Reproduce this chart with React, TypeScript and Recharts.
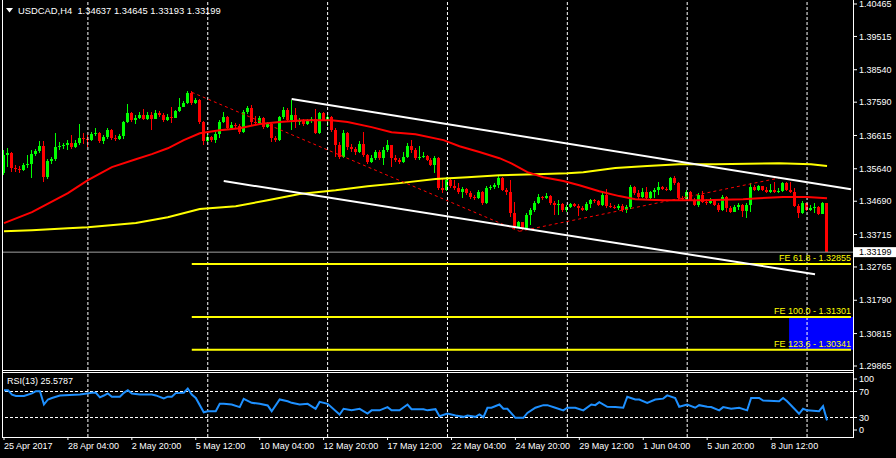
import React from "react";
import {
  ComposedChart,
  Bar,
  Line,
  XAxis,
  YAxis,
  ReferenceLine,
  ReferenceArea,
} from "recharts";

const FONT = "'Liberation Sans', Arial, sans-serif";
const BULL = "#00FF00";
const BEAR = "#FF0000";
const WHITE = "#FFFFFF";
const YELLOW = "#FFFF00";
const BARS = 213; // 207 candles + empty slots up to the price scale

// USDCAD H4, open of the first bar; later opens are the previous close
const FIRST_OPEN = 1.3551;

const closes = [
  1.3604, 1.361, 1.3566, 1.3563, 1.356, 1.3575, 1.3577, 1.3607, 1.3616, 1.363,
  1.3539, 1.3586, 1.3592, 1.3627, 1.363, 1.3633, 1.3639, 1.3627, 1.3639, 1.3654,
  1.3651, 1.3648, 1.3665, 1.3668, 1.3645, 1.3657, 1.3677, 1.3654, 1.3651, 1.366,
  1.3701, 1.3727, 1.3706, 1.3712, 1.3721, 1.3709, 1.3721, 1.3709, 1.3727, 1.3721,
  1.3706, 1.3715, 1.3714, 1.3733, 1.3745, 1.3756, 1.3786, 1.3756, 1.3765, 1.3701,
  1.3645, 1.3657, 1.3648, 1.3665, 1.3701, 1.3715, 1.3683, 1.3692, 1.3689, 1.3671,
  1.373, 1.3742, 1.3701, 1.3698, 1.3712, 1.3686, 1.3695, 1.3654, 1.3648, 1.3715,
  1.3736, 1.3706, 1.3721, 1.3701, 1.3703, 1.3695, 1.3703, 1.3709, 1.3668, 1.3727,
  1.3706, 1.3715, 1.3677, 1.3633, 1.3598, 1.3668, 1.3627, 1.3621, 1.3613, 1.3636,
  1.3604, 1.3583, 1.3595, 1.3613, 1.3595, 1.3619, 1.3633, 1.3595, 1.3589, 1.3583,
  1.3598, 1.363, 1.3619, 1.3595, 1.3598, 1.3601, 1.3589, 1.3575, 1.3595, 1.3507,
  1.3501, 1.3531, 1.3513, 1.3507, 1.3495, 1.3504, 1.3493, 1.3481, 1.3478, 1.3495,
  1.3463, 1.3507, 1.351, 1.3516, 1.3536, 1.3501, 1.3495, 1.3434, 1.3393, 1.3408,
  1.339, 1.3428, 1.3443, 1.3463, 1.3481, 1.3478, 1.3484, 1.3463, 1.3457, 1.346,
  1.3443, 1.3451, 1.346, 1.3454, 1.3449, 1.3443, 1.346, 1.3472, 1.3469, 1.3457,
  1.3487, 1.3454, 1.3451, 1.3449, 1.3454, 1.3443, 1.3451, 1.351, 1.3493, 1.3481,
  1.3495, 1.3478, 1.3495, 1.3501, 1.351, 1.3504, 1.3501, 1.3536, 1.3522, 1.3478,
  1.3475, 1.3495, 1.3472, 1.3457, 1.3487, 1.3466, 1.3463, 1.3472, 1.3457, 1.3443,
  1.3481, 1.3449, 1.3437, 1.3451, 1.3457, 1.344, 1.3457, 1.351, 1.3501, 1.3513,
  1.3501, 1.3495, 1.3501, 1.3495, 1.3498, 1.3522, 1.3501, 1.3495, 1.3454, 1.3434,
  1.3463, 1.3443, 1.3449, 1.3451, 1.3431, 1.34637, 1.33199,
];

const highs = [
  1.3619, 1.3624, 1.3613, 1.3575, 1.3572, 1.358, 1.3604, 1.3619, 1.3621, 1.3645,
  1.3645, 1.3592, 1.3598, 1.3668, 1.3642, 1.3639, 1.3648, 1.3662, 1.3648, 1.3695,
  1.3668, 1.3662, 1.3671, 1.3683, 1.3671, 1.3662, 1.3683, 1.368, 1.3662, 1.3665,
  1.3703, 1.3753, 1.373, 1.3721, 1.373, 1.3739, 1.373, 1.373, 1.3736, 1.3733,
  1.3727, 1.3724, 1.3745, 1.3736, 1.3771, 1.3762, 1.3791, 1.3791, 1.3771, 1.3768,
  1.3703, 1.3662, 1.366, 1.3671, 1.3706, 1.373, 1.3718, 1.3701, 1.3698, 1.3695,
  1.3736, 1.3747, 1.375, 1.3718, 1.3718, 1.3715, 1.3701, 1.3698, 1.366, 1.3718,
  1.3745, 1.3742, 1.3765, 1.3742, 1.3712, 1.3709, 1.3709, 1.3715, 1.3739, 1.373,
  1.373, 1.3721, 1.3718, 1.3683, 1.3642, 1.3677, 1.3671, 1.3636, 1.3627, 1.3645,
  1.3671, 1.3607, 1.3604, 1.3619, 1.3619, 1.3627, 1.3648, 1.3633, 1.3604, 1.3595,
  1.3613, 1.3639, 1.3648, 1.3624, 1.363, 1.3613, 1.3604, 1.3595, 1.3601, 1.3598,
  1.3536, 1.3539, 1.3536, 1.3531, 1.3522, 1.351, 1.3507, 1.3498, 1.3487, 1.3501,
  1.3498, 1.3513, 1.3516, 1.3522, 1.3542, 1.3539, 1.3507, 1.3531, 1.3466, 1.341,
  1.3408, 1.3434, 1.3449, 1.3469, 1.349, 1.3484, 1.3493, 1.3487, 1.3469, 1.3472,
  1.3463, 1.3457, 1.3463, 1.3463, 1.346, 1.3454, 1.3466, 1.3475, 1.3475, 1.3472,
  1.3493, 1.3504, 1.3463, 1.3457, 1.346, 1.346, 1.3457, 1.3516, 1.3513, 1.3501,
  1.3507, 1.351, 1.3498, 1.3507, 1.3525, 1.3513, 1.351, 1.3539, 1.3542, 1.3525,
  1.3484, 1.3501, 1.3498, 1.3478, 1.3493, 1.3498, 1.3475, 1.3478, 1.3475, 1.3463,
  1.3487, 1.3484, 1.3454, 1.3457, 1.3463, 1.346, 1.3463, 1.3522, 1.3516, 1.3516,
  1.3513, 1.351, 1.3519, 1.3525, 1.3507, 1.3525, 1.3525, 1.3525, 1.3507, 1.346,
  1.3469, 1.3463, 1.3457, 1.3463, 1.3454, 1.3466, 1.34645,
];

const lows = [
  1.3545, 1.3569, 1.3554, 1.3554, 1.3551, 1.3557, 1.3566, 1.3536, 1.3601, 1.361,
  1.3525, 1.3534, 1.3577, 1.3586, 1.3619, 1.3621, 1.3619, 1.3621, 1.3624, 1.3633,
  1.3636, 1.3627, 1.3645, 1.366, 1.3639, 1.3636, 1.3651, 1.3648, 1.3645, 1.3648,
  1.3651, 1.3698, 1.3701, 1.3695, 1.3709, 1.3706, 1.3706, 1.3677, 1.3709, 1.3715,
  1.3701, 1.3703, 1.3698, 1.3712, 1.373, 1.3745, 1.3753, 1.375, 1.3753, 1.3695,
  1.3633, 1.3642, 1.3642, 1.3639, 1.3654, 1.3698, 1.368, 1.368, 1.368, 1.3665,
  1.3668, 1.3724, 1.3692, 1.3695, 1.3692, 1.368, 1.3683, 1.3642, 1.3642, 1.3645,
  1.3709, 1.3701, 1.3677, 1.3683, 1.3692, 1.3689, 1.3692, 1.3698, 1.3665, 1.3665,
  1.3703, 1.3689, 1.3671, 1.3598, 1.3592, 1.3595, 1.3619, 1.3613, 1.3604, 1.361,
  1.3598, 1.3577, 1.358, 1.3589, 1.3589, 1.3575, 1.3613, 1.3569, 1.3583, 1.3577,
  1.358, 1.3595, 1.361, 1.3589, 1.3589, 1.3595, 1.3586, 1.3572, 1.3551, 1.3501,
  1.3493, 1.3498, 1.3507, 1.3501, 1.349, 1.3478, 1.3487, 1.3475, 1.3472, 1.3475,
  1.3457, 1.346, 1.3501, 1.3504, 1.3507, 1.3498, 1.3487, 1.3422, 1.3387, 1.339,
  1.3384, 1.3387, 1.3399, 1.3437, 1.346, 1.3472, 1.3475, 1.3457, 1.3428, 1.3428,
  1.3437, 1.3437, 1.3449, 1.3451, 1.3425, 1.344, 1.344, 1.3449, 1.3463, 1.3454,
  1.3454, 1.3449, 1.3449, 1.3446, 1.3443, 1.3437, 1.3434, 1.3446, 1.3487, 1.3475,
  1.3478, 1.3472, 1.3475, 1.3478, 1.3487, 1.3501, 1.3498, 1.3498, 1.3516, 1.3472,
  1.3469, 1.3472, 1.3469, 1.3454, 1.3451, 1.3463, 1.3457, 1.346, 1.3454, 1.3437,
  1.344, 1.3437, 1.3434, 1.3437, 1.3443, 1.3422, 1.3419, 1.3437, 1.3498, 1.3498,
  1.3498, 1.3493, 1.3493, 1.3493, 1.3493, 1.3495, 1.3498, 1.3493, 1.3451, 1.3419,
  1.3431, 1.344, 1.344, 1.3434, 1.3428, 1.3431, 1.33193,
];

// moving averages: [bar, value]
const maFast: [number, number][] = [
  [0, 1.3405], [7, 1.3437], [16, 1.3493], [21, 1.3531], [27, 1.3569], [33, 1.3592],
  [37, 1.3607], [41, 1.3624], [45, 1.3648], [49, 1.3668], [54, 1.3677], [59, 1.3683],
  [64, 1.3695], [69, 1.3701], [75, 1.3706], [82, 1.3706], [86, 1.3701], [92, 1.3686],
  [97, 1.3671], [103, 1.3665], [110, 1.3648], [114, 1.363], [119, 1.3613], [124, 1.3595],
  [127, 1.358], [131, 1.3554], [135, 1.3539], [140, 1.3528], [144, 1.3516], [149, 1.3498],
  [154, 1.3484], [158, 1.3475], [165, 1.3472], [175, 1.3472], [185, 1.3475], [189, 1.3478],
  [195, 1.3481], [201, 1.3481], [206, 1.3478],
];

const maSlow: [number, number][] = [
  [0, 1.3381], [7, 1.3384], [16, 1.339], [21, 1.3393], [33, 1.3405], [41, 1.3422],
  [49, 1.3446], [58, 1.3454], [66, 1.3472], [74, 1.349], [83, 1.3501], [91, 1.3513],
  [99, 1.3522], [108, 1.3534], [116, 1.3539], [124, 1.3545], [133, 1.3548], [141, 1.3551],
  [145, 1.3554], [153, 1.3566], [161, 1.3572], [169, 1.3577], [178, 1.3577], [194, 1.358],
  [202, 1.3577], [206, 1.3572],
];

const rsi13: [number, number][] = [
  [0, 72], [1, 72], [2, 65], [3, 63], [5, 63], [7, 67], [8, 70.5], [9, 70.5], [10, 50],
  [11, 57.7], [12, 60], [14, 63.8], [19, 65.4], [22, 68], [23, 68], [24, 61], [25, 63.8],
  [26, 67], [27, 62], [29, 62], [30, 68], [31, 72], [32, 67], [34, 65.4], [37, 65.4],
  [38, 64], [40, 59.4], [41, 62], [42, 62], [43, 67.5], [45, 68], [46, 74.6], [47, 65.4],
  [48, 60], [50, 38], [51, 39.7], [53, 39.7], [54, 51], [55, 51], [57, 50], [59, 46],
  [60, 58.7], [62, 52.6], [64, 51], [66, 48.5], [67, 39.7], [69, 57.7], [71, 55],
  [72, 52.6], [74, 50], [76, 51], [78, 43.4], [79, 54], [81, 51], [84, 34.6], [85, 43.4],
  [87, 41], [89, 43.4], [91, 36], [92, 41], [94, 41], [96, 46], [97, 41], [99, 41],
  [101, 50], [102, 42.8], [105, 42.8], [106, 41], [108, 42.8], [109, 32], [111, 36],
  [113, 33], [115, 31], [116, 33], [118, 31], [119, 34.6], [120, 30.5], [121, 45],
  [122, 45], [124, 50], [125, 43.4], [126, 43.4], [128, 29.5], [130, 29.5], [131, 37],
  [133, 45], [135, 49], [136, 49], [138, 45], [140, 41], [141, 45], [143, 45], [145, 41],
  [147, 50], [148, 49], [149, 53.6], [151, 46.5], [153, 46], [155, 45], [156, 62],
  [158, 57.7], [159, 57.7], [161, 52.6], [163, 57.7], [165, 59], [166, 64], [168, 60],
  [169, 46.5], [171, 50], [173, 45], [174, 49], [176, 46.5], [177, 46], [179, 41],
  [180, 46], [182, 43.4], [184, 45], [186, 41], [187, 60], [189, 60], [190, 56], [194, 55],
  [195, 60], [196, 55], [198, 42.3], [199, 35.7], [200, 43.4], [201, 41], [204, 39.7],
  [205, 47.4], [206, 25.5787],
];

const priceTicks = [
  1.40465, 1.39515, 1.3854, 1.3759, 1.36615, 1.3564, 1.3469, 1.33715, 1.32765, 1.3179,
  1.30815, 1.29865,
];
const timeTicks = [0, 16, 32, 48, 64, 80, 96, 112, 128, 144, 160, 176, 192];
const timeLabels = [
  "25 Apr 2017", "28 Apr 04:00", "2 May 20:00", "5 May 12:00", "10 May 04:00",
  "12 May 20:00", "17 May 12:00", "22 May 04:00", "24 May 20:00", "29 May 12:00",
  "1 Jun 04:00", "5 Jun 20:00", "8 Jun 12:00",
];
const gridBars = [21, 51, 81, 111, 141, 171, 201];

const LAST_PRICE = 1.33199;
const feLevels = [
  { name: "FE 61.8", price: 1.32855 },
  { name: "FE 100.0", price: 1.31301 },
  { name: "FE 123.6", price: 1.30341 },
];
const fibA = { i: 47, p: 1.3788 };
const fibB = { i: 129, p: 1.3381 };
const fibC = { i: 194, p: 1.35369 };
const channelTop = [{ x: 72, y: 1.3768 }, { x: 212, y: 1.3504 }];
const channelBottom = [{ x: 55, y: 1.3528 }, { x: 203, y: 1.3255 }];

const candleData: any[] = Array.from({ length: BARS }, (_, i) => {
  const row: any = { i };
  if (i < closes.length) {
    row.o = i === 0 ? FIRST_OPEN : closes[i - 1];
    row.h = highs[i];
    row.l = lows[i];
    row.c = closes[i];
  }
  return row;
});
maFast.forEach(([i, v]) => (candleData[i].maFast = v));
maSlow.forEach(([i, v]) => (candleData[i].maSlow = v));

const rsiData: any[] = Array.from({ length: BARS }, (_, i) => ({ i }));
rsi13.forEach(([i, v]) => (rsiData[i].rsi = v));

function Candle(props: any) {
  const { x, y, width, height, payload } = props;
  if (!payload || payload.h == null || !isFinite(y)) return null;
  const { o, h, l, c } = payload;
  const span = h - l || 1e-9;
  const py = (v: number) => y + ((h - v) / span) * height;
  const cx = Math.floor(x + width / 2) + 0.5;
  const yo = py(o);
  const yc = py(c);
  const top = Math.round(Math.min(yo, yc, y));
  const bot = Math.round(Math.max(yo, yc, y + height));
  const bt = Math.round(Math.min(yo, yc));
  const bh = Math.max(1, Math.round(Math.max(yo, yc)) - bt);
  const color = c >= o ? BULL : BEAR;
  return (
    <g>
      <line x1={cx} x2={cx} y1={top} y2={bot} stroke={color} strokeWidth={1} />
      <rect x={cx - 1.5} y={bt} width={3} height={bh} fill={color} />
    </g>
  );
}

function FeText({ viewBox, text }: any) {
  if (!viewBox) return null;
  return (
    <text
      x={viewBox.x + viewBox.width}
      y={viewBox.y - 3}
      textAnchor="end"
      fill={YELLOW}
      fontSize={9}
      fontFamily={FONT}
    >
      {text}
    </text>
  );
}

function LastPriceTag({ viewBox }: any) {
  if (!viewBox) return null;
  const x = viewBox.x + viewBox.width;
  return (
    <g>
      <rect x={x} y={viewBox.y - 5} width={43} height={10} fill={WHITE} />
      <text x={x + 6} y={viewBox.y} dy="0.355em" fill="#000" fontSize={9} fontFamily={FONT}>
        {LAST_PRICE.toFixed(5)}
      </text>
    </g>
  );
}

function TimeTick({ x, payload }: any) {
  const k = timeTicks.indexOf(payload.value);
  return (
    <text x={x} y={76} dy="0.355em" fill={WHITE} fontSize={9} fontFamily={FONT} textAnchor="start">
      {timeLabels[k]}
    </text>
  );
}

function RsiTick({ x, y, payload }: any) {
  const v = payload.value;
  const yy = y + (v === 100 ? 7 : v === 0 ? -7 : 0);
  return (
    <g>
      <line x1={x - 6} x2={x - 2} y1={yy} y2={yy} stroke={WHITE} />
      <text x={x} y={yy} dy="0.355em" fill={WHITE} fontSize={9} fontFamily={FONT}>
        {v}
      </text>
    </g>
  );
}

const hline = (top: number): React.CSSProperties => ({
  position: "absolute", left: 2, top, width: 852, height: 1, background: WHITE,
});
const vline = (left: number): React.CSSProperties => ({
  position: "absolute", left, top: 0, width: 1, height: 438, background: WHITE,
});

export default function App() {
  return (
    <div
      style={{
        position: "absolute", left: 0, top: 0, width: 896, height: 458,
        background: "#000", overflow: "hidden", fontFamily: FONT,
      }}
    >
      <div style={{ position: "absolute", left: 0, top: 0 }}>
        <ComposedChart width={896} height={370} data={candleData} margin={{ top: 0, right: 0, bottom: 0, left: 2 }}>
          <XAxis dataKey="i" type="category" scale="band" hide />
          <YAxis
            orientation="right"
            width={43}
            domain={[1.29748, 1.40582]}
            allowDataOverflow
            ticks={priceTicks}
            interval={0}
            tickFormatter={(v: number) => v.toFixed(5)}
            tick={{ fill: WHITE, fontSize: 9, fontFamily: FONT }}
            tickLine={{ stroke: WHITE }}
            tickSize={4}
            axisLine={false}
          />
          {gridBars.map((g) => (
            <ReferenceLine key={g} x={g} stroke={WHITE} strokeDasharray="3 2" />
          ))}
          <ReferenceArea x1={197} x2={212} y1={feLevels[2].price} y2={feLevels[1].price} fill="#0000FF" fillOpacity={1} stroke="none" />
          {feLevels.map((f) => (
            <ReferenceLine
              key={f.name}
              segment={[{ x: fibA.i, y: f.price }, { x: 212, y: f.price }]}
              stroke={YELLOW}
              strokeWidth={2}
              label={(p: any) => <FeText viewBox={p.viewBox} text={`${f.name} - ${f.price.toFixed(5)}`} />}
            />
          ))}
          <ReferenceLine y={LAST_PRICE} stroke="#A0A0A0" label={(p: any) => <LastPriceTag viewBox={p.viewBox} />} />
          <Bar dataKey={(d: any) => (d.h == null ? null : [d.l, d.h])} barSize={3} shape={<Candle />} isAnimationActive={false} />
          <Line dataKey="maSlow" stroke={YELLOW} strokeWidth={2} dot={false} connectNulls isAnimationActive={false} />
          <Line dataKey="maFast" stroke={BEAR} strokeWidth={2} dot={false} connectNulls isAnimationActive={false} />
          <ReferenceLine segment={[{ x: fibA.i, y: fibA.p }, { x: fibB.i, y: fibB.p }]} stroke={BEAR} strokeDasharray="3 3" />
          <ReferenceLine segment={[{ x: fibB.i, y: fibB.p }, { x: fibC.i, y: fibC.p }]} stroke={BEAR} strokeDasharray="3 3" />
          <ReferenceLine segment={channelTop} stroke={WHITE} strokeWidth={2} />
          <ReferenceLine segment={channelBottom} stroke={WHITE} strokeWidth={2} />
        </ComposedChart>
      </div>

      <div style={{ position: "absolute", left: 0, top: 370 }}>
        <ComposedChart width={896} height={88} data={rsiData} margin={{ top: 2, right: 0, bottom: 0, left: 2 }}>
          <XAxis
            dataKey="i"
            type="category"
            scale="band"
            height={21}
            ticks={timeTicks}
            interval={0}
            tick={<TimeTick />}
            tickLine={{ stroke: WHITE }}
            tickSize={3}
            axisLine={false}
          />
          <YAxis
            orientation="right"
            width={43}
            domain={[0, 100]}
            ticks={[0, 30, 70, 100]}
            interval={0}
            tick={<RsiTick />}
            tickLine={false}
            tickSize={4}
            axisLine={false}
          />
          {gridBars.map((g) => (
            <ReferenceLine key={g} x={g} stroke={WHITE} strokeDasharray="3 2" />
          ))}
          <ReferenceLine y={70} stroke={WHITE} strokeDasharray="3 2" />
          <ReferenceLine y={30} stroke={WHITE} strokeDasharray="3 2" />
          <Line dataKey="rsi" stroke="#1E90FF" strokeWidth={2} dot={false} connectNulls isAnimationActive={false} />
        </ComposedChart>
      </div>

      {/* window frames */}
      <div style={vline(2)} />
      <div style={vline(853)} />
      <div style={hline(370)} />
      <div style={hline(372)} />
      <div style={hline(437)} />

      <svg style={{ position: "absolute", left: 6, top: 8 }} width={7} height={5}>
        <polygon points="0,0 7,0 3.5,4.5" fill={WHITE} />
      </svg>
      <div style={{ position: "absolute", left: 18, top: 5, color: WHITE, fontSize: 9.4, lineHeight: "12px", whiteSpace: "pre" }}>
        {"USDCAD,H4  1.34637 1.34645 1.33193 1.33199"}
      </div>
      <div style={{ position: "absolute", left: 7, top: 375, color: WHITE, fontSize: 9, lineHeight: "12px", whiteSpace: "pre" }}>
        {"RSI(13) 25.5787"}
      </div>
    </div>
  );
}
